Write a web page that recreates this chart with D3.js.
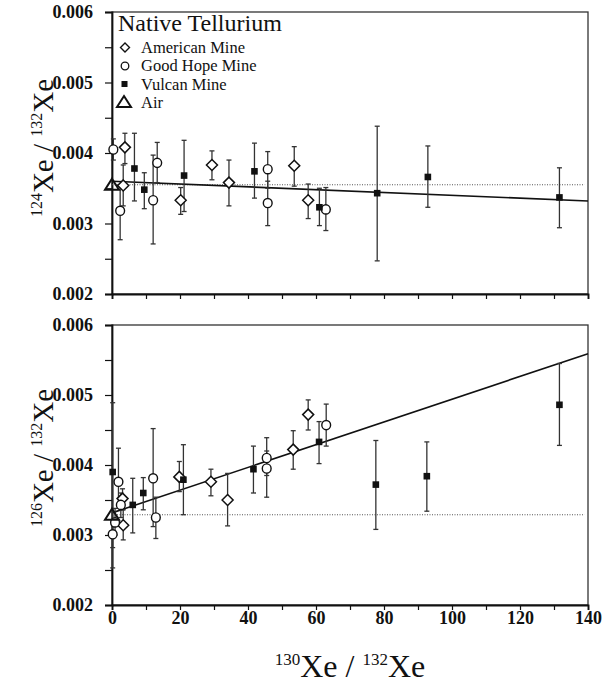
<!DOCTYPE html>
<html>
<head>
<meta charset="utf-8">
<script src="https://cdn.jsdelivr.net/npm/d3@7"></script>
<style>
  body { margin: 0; background: #fff; }
  svg text { font-family: "Liberation Serif", "Times New Roman", serif !important; fill: #111; }
</style>
</head>
<body>
<div id="chart"></div>
<script>
// points are [x, y, errLow, errHigh]
var american124 = [
    [3.8, 0.00408, 0.00385, 0.00428],
    [3.3, 0.00354, 0.00325, 0.00383],
    [20.2, 0.00333, 0.00313, 0.00351],
    [29.4, 0.00383, 0.00362, 0.00403],
    [34.4, 0.00358, 0.00325, 0.00390],
    [53.6, 0.00382, 0.00353, 0.00409],
    [57.7, 0.00333, 0.00307, 0.00356]];
var goodhope124 = [
    [0.4, 0.00405, 0.00390, 0.00420],
    [2.4, 0.00318, 0.00277, 0.00354],
    [12.1, 0.00333, 0.00271, 0.00397],
    [13.3, 0.00386, 0.00358, 0.00415],
    [45.8, 0.00377, 0.00350, 0.00402],
    [45.8, 0.00329, 0.00297, 0.00360],
    [62.9, 0.00320, 0.00290, 0.00351]];
var vulcan124 = [
    [6.6, 0.00378, 0.00332, 0.00428],
    [9.5, 0.00348, 0.00321, 0.00372],
    [21.2, 0.00368, 0.00317, 0.00418],
    [41.9, 0.00374, 0.00336, 0.00414],
    [61.0, 0.00323, 0.00297, 0.00350],
    [78.0, 0.00343, 0.00247, 0.00438],
    [92.9, 0.00366, 0.00323, 0.00410],
    [131.6, 0.00337, 0.00294, 0.00379]];
var air124 = [0, 0.00355];
var fit124 = [[0, 0.00360], [140, 0.00332]];

var american126 = [
    [3.1, 0.00352, 0.00336, 0.00366],
    [3.3, 0.00314, 0.00293, 0.00336],
    [19.8, 0.00383, 0.00362, 0.00405],
    [29.1, 0.00376, 0.00356, 0.00394],
    [34.0, 0.00350, 0.00313, 0.00388],
    [53.3, 0.00422, 0.00394, 0.00449],
    [57.7, 0.00472, 0.00450, 0.00493]];
var goodhope126 = [
    [1.9, 0.00376, 0.00345, 0.00424],
    [0.9, 0.00318, 0.00300, 0.00338],
    [0.2, 0.00301, 0.00282, 0.00320],
    [2.6, 0.00343, 0.00325, 0.00360],
    [12.1, 0.00381, 0.00312, 0.00452],
    [12.9, 0.00325, 0.00295, 0.00354],
    [45.5, 0.00410, 0.00385, 0.00439],
    [45.5, 0.00395, 0.00354, 0.00420],
    [63.0, 0.00457, 0.00427, 0.00487]];
var vulcan126 = [
    [0.2, 0.00390, 0.00253, 0.00489],
    [6.1, 0.00343, 0.00303, 0.00381],
    [9.2, 0.00360, 0.00336, 0.00382],
    [21.0, 0.00379, 0.00329, 0.00429],
    [41.6, 0.00394, 0.00360, 0.00427],
    [60.9, 0.00433, 0.00402, 0.00462],
    [77.6, 0.00372, 0.00308, 0.00435],
    [92.6, 0.00384, 0.00334, 0.00433],
    [131.6, 0.00486, 0.00428, 0.00545]];
var air126 = [0, 0.00329];
var fit126 = [[0, 0.003316], [140, 0.00559]];

var yTicks = [0.002, 0.0025, 0.003, 0.0035, 0.004, 0.0045, 0.005, 0.0055, 0.006];
var xTicks = [0, 10, 20, 30, 40, 50, 60, 70, 80, 90, 100, 110, 120, 130, 140];
var legendNames = ["American Mine", "Good Hope Mine", "Vulcan Mine", "Air"];

var serif = '"Liberation Serif", "Times New Roman", serif';
var width = 608, height = 683;
var left = 112, right = 588;

var svg = d3.select("#chart").append("svg")
    .attr("width", width)
    .attr("height", height)
    .attr("font-family", serif);

var x = d3.scaleLinear().domain([0, 140]).range([left, right]);

function drawPanel(top, bottom, am, gh, vu, air, fit, showXLabels) {
    var y = d3.scaleLinear().domain([0.002, 0.006]).range([bottom, top]);
    var g = svg.append("g");

    // frame
    g.append("rect")
        .attr("x", left).attr("y", top)
        .attr("width", right - left).attr("height", bottom - top)
        .attr("fill", "none").attr("stroke", "#333").attr("stroke-width", 1.3);

    var yAxis = d3.axisLeft(y).tickValues(yTicks).tickSize(7).tickPadding(12)
        .tickFormat(function (d) {
            return Math.abs(d * 1000 - Math.round(d * 1000)) < 1e-6 ? d3.format(".3f")(d) : "";
        });
    var ya = g.append("g").attr("transform", "translate(" + left + ",0)").call(yAxis)
        .attr("font-family", serif);
    ya.select(".domain").attr("stroke", "#111").attr("stroke-width", 1.8);
    ya.selectAll(".tick line").attr("stroke", "#111").attr("stroke-width", 1.2);
    ya.selectAll("text").style("font-size", "18px").style("font-weight", "bold");

    var xAxis = d3.axisBottom(x).tickValues(xTicks).tickSize(5).tickPadding(1)
        .tickFormat(function (d) { return showXLabels && d % 20 === 0 ? d : ""; });
    var xa = g.append("g").attr("transform", "translate(0," + bottom + ")").call(xAxis)
        .attr("font-family", serif);
    xa.select(".domain").attr("stroke", "#111").attr("stroke-width", 1.8);
    xa.selectAll(".tick line").attr("stroke", "#111").attr("stroke-width", 1.2);
    xa.selectAll("text").style("font-size", "18px").style("font-weight", "bold");

    // air reference (dotted) and fit line
    g.append("line")
        .attr("x1", x(0)).attr("x2", x(139))
        .attr("y1", y(air[1])).attr("y2", y(air[1]))
        .attr("stroke", "#555").attr("stroke-width", 1.1)
        .attr("stroke-dasharray", "1,1.5");
    g.append("line")
        .attr("x1", x(fit[0][0])).attr("y1", y(fit[0][1]))
        .attr("x2", x(fit[1][0])).attr("y2", y(fit[1][1]))
        .attr("stroke", "#111").attr("stroke-width", 1.6);

    // error bars
    var all = am.concat(gh, vu);
    var eb = g.selectAll(".err").data(all).enter().append("g");
    eb.append("line")
        .attr("x1", function (d) { return x(d[0]); })
        .attr("x2", function (d) { return x(d[0]); })
        .attr("y1", function (d) { return y(d[2]); })
        .attr("y2", function (d) { return y(d[3]); })
        .attr("stroke", "#333").attr("stroke-width", 1.3);
    [2, 3].forEach(function (k) {
        eb.append("line")
            .attr("x1", function (d) { return x(d[0]) - 2.5; })
            .attr("x2", function (d) { return x(d[0]) + 2.5; })
            .attr("y1", function (d) { return y(d[k]); })
            .attr("y2", function (d) { return y(d[k]); })
            .attr("stroke", "#333").attr("stroke-width", 1.3);
    });

    g.selectAll(".dia").data(am).enter().append("path")
        .attr("d", "M0,-5.5L5.5,0L0,5.5L-5.5,0Z")
        .attr("transform", function (d) { return "translate(" + x(d[0]) + "," + y(d[1]) + ")"; })
        .attr("fill", "#fff").attr("stroke", "#111").attr("stroke-width", 1.5);

    g.selectAll(".circ").data(gh).enter().append("ellipse")
        .attr("cx", function (d) { return x(d[0]); })
        .attr("cy", function (d) { return y(d[1]); })
        .attr("rx", 4.4).attr("ry", 4.6)
        .attr("fill", "#fff").attr("stroke", "#111").attr("stroke-width", 1.4);

    g.selectAll(".sq").data(vu).enter().append("rect")
        .attr("x", function (d) { return x(d[0]) - 3.3; })
        .attr("y", function (d) { return y(d[1]) - 3.3; })
        .attr("width", 6.6).attr("height", 6.6)
        .attr("fill", "#111");

    g.append("path")
        .attr("d", "M0,-6L7,5L-7,5Z")
        .attr("transform", "translate(" + x(air[0]) + "," + y(air[1]) + ")")
        .attr("fill", "none").attr("stroke", "#111").attr("stroke-width", 2);

    return y;
}

drawPanel(12, 294, american124, goodhope124, vulcan124, air124, fit124, false);
drawPanel(325, 605, american126, goodhope126, vulcan126, air126, fit126, true);

// legend
var lg = svg.append("g");
lg.append("text").attr("x", 118).attr("y", 31)
    .style("font-size", "24px").text("Native Tellurium");
var legendY = [52.5, 71, 89.5, 108];
legendNames.forEach(function (name, i) {
    lg.append("text").attr("x", 141).attr("y", legendY[i])
        .style("font-size", "16.5px").text(name);
});
lg.append("path").attr("d", "M0,-4.5L4.5,0L0,4.5L-4.5,0Z")
    .attr("transform", "translate(125,47.5)")
    .attr("fill", "#fff").attr("stroke", "#111").attr("stroke-width", 1.4);
lg.append("circle").attr("cx", 125).attr("cy", 66).attr("r", 3.8)
    .attr("fill", "#fff").attr("stroke", "#111").attr("stroke-width", 1.3);
lg.append("rect").attr("x", 121.5).attr("y", 81).attr("width", 6).attr("height", 6)
    .attr("fill", "#111");
lg.append("path").attr("d", "M0,-6L7,5L-7,5Z")
    .attr("transform", "translate(124,102)")
    .attr("fill", "none").attr("stroke", "#111").attr("stroke-width", 2);

// axis titles
function ratioTitle(sel, top, bottom, big, small) {
    sel.append("tspan").style("font-size", small + "px").attr("dy", -big * 0.38).text(top);
    sel.append("tspan").style("font-size", big + "px").attr("dy", big * 0.38).text("Xe");
    sel.append("tspan").style("font-size", big + "px").text(" / ");
    sel.append("tspan").style("font-size", small + "px").attr("dy", -big * 0.38).text(bottom);
    sel.append("tspan").style("font-size", big + "px").attr("dy", big * 0.38).text("Xe");
}

var t1 = svg.append("text").attr("text-anchor", "middle")
    .attr("transform", "translate(53,148) rotate(-90)");
ratioTitle(t1, "124", "132", 29, 16);
var t2 = svg.append("text").attr("text-anchor", "middle")
    .attr("transform", "translate(53,458) rotate(-90)");
ratioTitle(t2, "126", "132", 29, 16);
var t3 = svg.append("text").attr("text-anchor", "middle")
    .attr("transform", "translate(350,677)");
ratioTitle(t3, "130", "132", 32, 17);
</script>
</body>
</html>
